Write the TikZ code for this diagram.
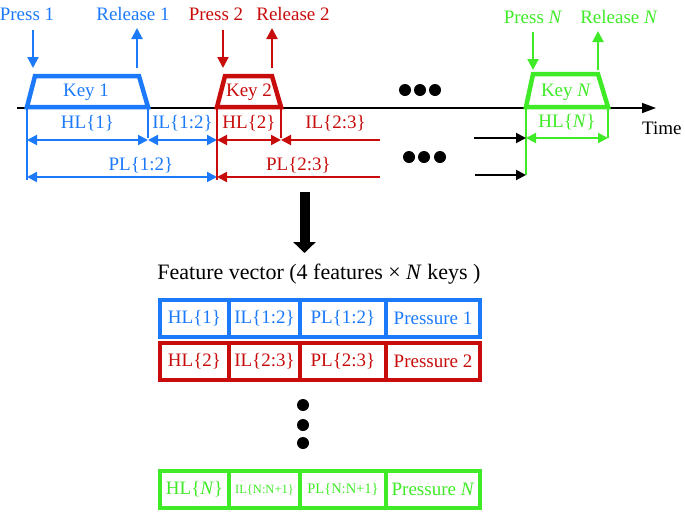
\documentclass[tikz,border=0pt]{standalone}
\usepackage{fontspec}
\setmainfont{Liberation Serif}
\usetikzlibrary{arrows.meta}
\definecolor{keyblue}{RGB}{28,122,250}
\definecolor{keyred}{RGB}{200,12,12}
\definecolor{keygreen}{RGB}{62,235,38}

\begin{document}
\begin{tikzpicture}[x=1pt,y=-1pt,
    txt/.style={font=\fontsize{19}{21}\selectfont, inner sep=0pt},
    lbl/.style={txt, yshift=17pt},
    plbl/.style={txt, yshift=12pt},
    tip/.style={-{Triangle[length=11pt,width=11pt]}, line width=2pt},
    dim/.style={{Triangle[length=10pt,width=10pt]}-{Triangle[length=10pt,width=10pt]}, line width=2pt},
    half/.style={-{Triangle[length=10pt,width=10pt]}, line width=2pt},
    keybox/.style={line width=4.5pt, line join=miter},
    cell/.style={draw, line width=3.5pt, minimum height=37pt, inner sep=0pt, font=\fontsize{19}{21}\selectfont},
    dot/.style={circle, fill, inner sep=0pt, minimum size=12pt}]
    \useasboundingbox (0,0) rectangle (685,512);

    % time axis
    \coordinate (t0) at (17,108);
    \coordinate (t1) at (656,108);
    \draw[line width=1.5pt, -{Triangle[length=14pt,width=10pt]}] (t0) -- (t1);
    \node[txt, anchor=west] (time) at (642,128) {Time};

    % key 1
    \coordinate (a1) at (27,107);
    \coordinate (b1) at (35,76);
    \coordinate (c1) at (139,76);
    \coordinate (d1) at (148,107);
    \draw[keybox, keyblue] (a1) -- (b1) -- (c1) -- (d1) -- cycle;
    \node[txt, keyblue] (key1) at (86,92) {Key 1};
    \node[txt, keyblue] (press1) at (27,14) {Press 1};
    \node[txt, keyblue] (release1) at (133,14) {Release 1};
    \coordinate (p1a) at (33,30);
    \coordinate (p1b) at (33,68);
    \coordinate (r1a) at (137,68);
    \coordinate (r1b) at (137,28);
    \draw[tip, keyblue] (p1a) -- (p1b);
    \draw[tip, keyblue] (r1a) -- (r1b);

    % key 2
    \coordinate (a2) at (217,107);
    \coordinate (b2) at (225,76);
    \coordinate (c2) at (272,76);
    \coordinate (d2) at (281,107);
    \draw[keybox, keyred] (a2) -- (b2) -- (c2) -- (d2) -- cycle;
    \node[txt, keyred] (key2) at (249,92) {Key 2};
    \node[txt, keyred] (press2) at (216,14) {Press 2};
    \node[txt, keyred] (release2) at (293,14) {Release 2};
    \coordinate (p2a) at (223,30);
    \coordinate (p2b) at (223,68);
    \coordinate (r2a) at (272,68);
    \coordinate (r2b) at (272,28);
    \draw[tip, keyred] (p2a) -- (p2b);
    \draw[tip, keyred] (r2a) -- (r2b);

    % key N
    \coordinate (aN) at (526,107);
    \coordinate (bN) at (533,74);
    \coordinate (cN) at (598,74);
    \coordinate (dN) at (608,107);
    \draw[keybox, keygreen] (aN) -- (bN) -- (cN) -- (dN) -- cycle;
    \node[txt, keygreen] (keyN) at (566,92) {Key \textit{N}};
    \node[txt, keygreen] (pressN) at (533,17) {Press \textit{N}};
    \node[txt, keygreen] (releaseN) at (619,17) {Release \textit{N}};
    \coordinate (pNa) at (533,32);
    \coordinate (pNb) at (533,70);
    \coordinate (rNa) at (598,70);
    \coordinate (rNb) at (598,31);
    \draw[tip, keygreen] (pNa) -- (pNb);
    \draw[tip, keygreen] (rNa) -- (rNb);

    % latencies
    \coordinate (h1a) at (27,140);
    \coordinate (h1b) at (148,140);
    \coordinate (i1b) at (217,140);
    \coordinate (q1a) at (27,177);
    \coordinate (q1b) at (217,177);
    \draw[keyblue, line width=2pt] (a1) -- (27,180);
    \draw[keyblue, line width=2pt] (d1) -- (148,138);
    \draw[dim, keyblue] (h1a) -- node[lbl] {HL\{1\}} (h1b);
    \draw[dim, keyblue] (h1b) -- node[lbl] {IL\{1:2\}} (i1b);
    \draw[dim, keyblue] (q1a) -- node[plbl, pos=0.6] {PL\{1:2\}} (q1b);

    \coordinate (h2b) at (281,140);
    \coordinate (i2b) at (380,140);
    \coordinate (q2b) at (380,177);
    \draw[keyred, line width=2pt] (a2) -- (217,180);
    \draw[keyred, line width=2pt] (d2) -- (281,138);
    \draw[dim, keyred] (i1b) -- node[lbl] {HL\{2\}} (h2b);
    \draw[half, keyred] (i2b) -- node[lbl, xshift=5pt] {IL\{2:3\}} (h2b);
    \draw[half, keyred] (q2b) -- node[plbl] {PL\{2:3\}} (q1b);

    \coordinate (hNa) at (526,138);
    \coordinate (hNb) at (608,138);
    \coordinate (qNa) at (526,175);
    \draw[keygreen, line width=2pt] (aN) -- (qNa);
    \draw[keygreen, line width=2pt] (dN) -- (hNb);
    \draw[dim, keygreen] (hNa) -- node[lbl, yshift=-1pt] {HL\{\textit{N}\}} (hNb);

    \coordinate (e1) at (474,138);
    \coordinate (e2) at (475,175);
    \draw[half] (e1) -- (hNa);
    \draw[half] (e2) -- (qNa);

    % dots
    \node[dot] (u1) at (405,90) {};
    \node[dot] (u2) at (420,90) {};
    \node[dot] (u3) at (435,90) {};
    \node[dot] (w1) at (409,157) {};
    \node[dot] (w2) at (424,157) {};
    \node[dot] (w3) at (440,157) {};

    % to feature vector
    \coordinate (s0) at (304.5,192);
    \coordinate (s1) at (304.5,253);
    \draw[line width=10pt, -{Triangle[length=11pt,width=22pt]}] (s0) -- (s1);
    \node[txt, font=\fontsize{22}{24}\selectfont] (fv) at (319,274) {Feature vector (4 features × \textit{N} keys )};

    % rows
    \node[cell, keyblue, minimum width=69pt] (hl1) at (194.5,318.5) {HL\{1\}};
    \node[cell, keyblue, minimum width=71pt] (il1) at (264.5,318.5) {IL\{1:2\}};
    \node[cell, keyblue, minimum width=86pt] (pl1) at (343,318.5) {PL\{1:2\}};
    \node[cell, keyblue, minimum width=94pt] (pr1) at (433,318.5) {Pressure 1};

    \node[cell, keyred, minimum width=69pt] (hl2) at (194.5,361.5) {HL\{2\}};
    \node[cell, keyred, minimum width=71pt] (il2) at (264.5,361.5) {IL\{2:3\}};
    \node[cell, keyred, minimum width=86pt] (pl2) at (343,361.5) {PL\{2:3\}};
    \node[cell, keyred, minimum width=94pt] (pr2) at (433,361.5) {Pressure 2};

    \node[dot] (z1) at (303,405) {};
    \node[dot] (z2) at (303,425) {};
    \node[dot] (z3) at (303,443) {};

    \node[cell, keygreen, minimum width=69pt] (hlN) at (194.5,489.5) {HL\{\textit{N}\}};
    \node[cell, keygreen, minimum width=71pt, font=\fontsize{12.5}{14}\selectfont] (ilN) at (264.5,489.5) {IL\{N:N+1\}};
    \node[cell, keygreen, minimum width=86pt, font=\fontsize{14.5}{16}\selectfont] (plN) at (343,489.5) {PL\{N:N+1\}};
    \node[cell, keygreen, minimum width=94pt] (prN) at (433,489.5) {Pressure \textit{N}};
\end{tikzpicture}
\end{document}
